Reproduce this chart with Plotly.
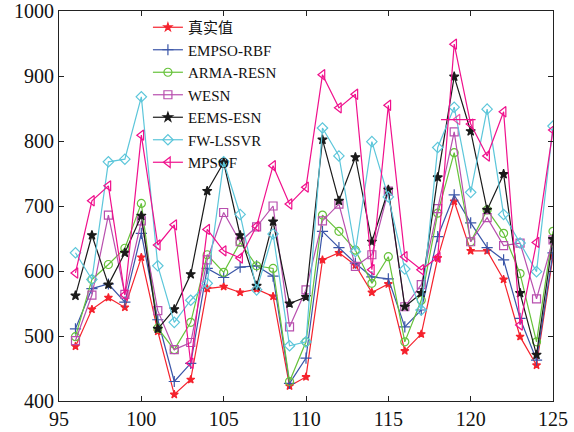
import plotly.graph_objects as go

x = list(range(96, 126))

true_vals = [484, 541, 559, 544, 621, 507, 410, 433, 573, 576, 567, 572, 561, 423, 437, 617,
             628, 609, 567, 580, 477, 503, 620, 707, 631, 631, 587, 499, 455, 623]
empso_rbf = [511, 573, 580, 552, 658, 525, 430, 458, 604, 590, 606, 608, 592, 427, 466, 661,
             636, 612, 591, 588, 514, 540, 653, 717, 674, 636, 617, 527, 463, 628]
arma_resn = [499, 587, 610, 635, 704, 512, 479, 521, 625, 598, 644, 608, 604, 430, 491, 686,
             661, 632, 581, 622, 491, 555, 689, 782, 645, 694, 658, 596, 491, 661]
wesn = [493, 563, 686, 564, 677, 539, 479, 490, 617, 690, 645, 668, 700, 514, 571, 677,
        703, 607, 625, 723, 545, 579, 696, 814, 645, 682, 639, 643, 557, 648]
eems_esn = [562, 655, 579, 628, 685, 511, 541, 595, 723, 767, 655, 577, 676, 550, 560, 802,
            708, 775, 645, 725, 545, 566, 744, 899, 815, 694, 749, 566, 471, 649]
fw_lssvr = [628, 587, 768, 772, 868, 608, 521, 555, 581, 768, 687, 571, 657, 485, 491, 820,
            777, 630, 799, 714, 603, 540, 790, 852, 721, 849, 687, 643, 599, 823]
mpsof = [597, 708, 731, 563, 809, 640, 671, 458, 664, 631, 620, 669, 762, 703, 729, 902,
         851, 872, 602, 855, 622, 602, 621, 949, 826, 777, 845, 517, 644, 817]

# stray marker segment visible in the reference
stray_x = [118.2, 119.2, 120.3]
stray_y = [833, 833, 833]

names = ["真实值", "EMPSO-RBF", "ARMA-RESN", "WESN", "EEMS-ESN", "FW-LSSVR", "MPSOF"]
series = [true_vals, empso_rbf, arma_resn, wesn, eems_esn, fw_lssvr, mpsof]
colors = ["#f5222d", "#3a55a8", "#66c23a", "#b84fae", "#1a1a1a", "#5cc6da", "#f0108c"]
symbols = ["star", "cross-thin-open", "circle-open", "square-open", "star",
           "diamond-open", "triangle-left-open"]
sizes = [6, 8, 8, 8, 7, 8, 9]

fig = go.Figure()
for n, s, c, sym, sz in zip(names, series, colors, symbols, sizes):
    fig.add_trace(go.Scatter(
        x=x, y=s, name=n, mode="lines+markers",
        line=dict(color=c, width=1.2),
        marker=dict(symbol=sym, size=sz, color=c, line=dict(color=c, width=1.2)),
    ))

fig.add_trace(go.Scatter(
    x=stray_x, y=stray_y, mode="lines+markers", showlegend=False,
    line=dict(color=colors[6], width=1.2),
    marker=dict(symbol=["circle", "triangle-left-open", "circle"], size=[0, 9, 0],
                color=colors[6], line=dict(color=colors[6], width=1.2)),
))

axis_common = dict(
    showgrid=False, zeroline=False, showline=True, linecolor="#222", linewidth=1,
    mirror="ticks", ticks="inside", ticklen=5, tickcolor="#222", automargin=False,
    tickfont=dict(family="Liberation Serif", size=20, color="#111"),
)

fig.update_layout(
    template="none",
    width=574, height=432,
    margin=dict(l=59, r=21, t=11, b=31),
    paper_bgcolor="white", plot_bgcolor="white",
    xaxis=dict(range=[95, 125], tickvals=[95, 100, 105, 110, 115, 120, 125], **axis_common),
    yaxis=dict(range=[400, 1000], tickvals=[400, 500, 600, 700, 800, 900, 1000], **axis_common),
    legend=dict(x=0.18, y=1.0, xanchor="left", yanchor="top",
                bgcolor="rgba(255,255,255,0)", borderwidth=0,
                font=dict(family="Liberation Serif, Noto Sans CJK SC", size=15, color="#111"),
                tracegroupgap=0, itemwidth=30),
    showlegend=True,
)

fig.write_html("out.html", config={"displayModeBar": False},
               post_script="document.body.style.margin='0';document.body.style.overflow='hidden';")
